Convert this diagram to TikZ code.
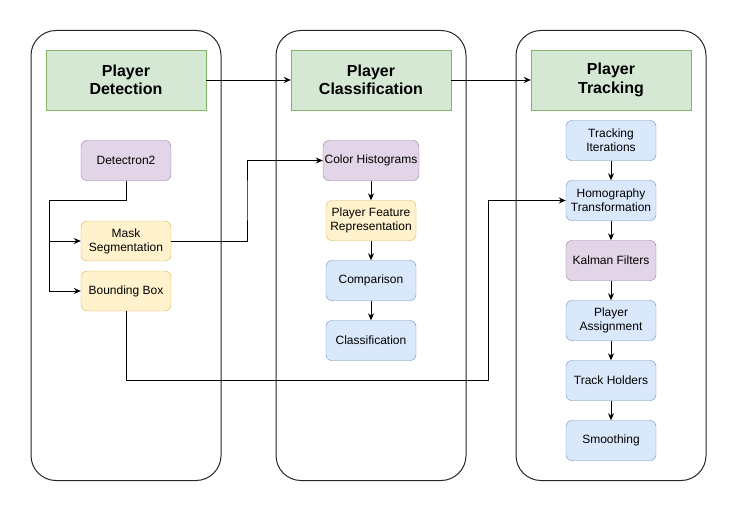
\documentclass[tikz,border=0pt]{standalone}
\usepackage{fontspec}
\setmainfont{Liberation Sans}
\usetikzlibrary{arrows.meta}

\definecolor{headfill}{HTML}{D5E8D4}
\definecolor{headline}{HTML}{82B366}
\definecolor{purplefill}{HTML}{E1D5E7}
\definecolor{purpleline}{HTML}{9673A6}
\definecolor{yellowfill}{HTML}{FFF2CC}
\definecolor{yellowline}{HTML}{D6B656}
\definecolor{bluefill}{HTML}{DAE8FC}
\definecolor{blueline}{HTML}{6C8EBF}

\begin{document}
\begin{tikzpicture}[x=1pt, y=-1pt,
    stage/.style={rectangle, rounded corners=25pt, draw=black!85, line width=1pt, minimum width=190pt, minimum height=450pt},
    head/.style={rectangle, draw=headline, fill=headfill, minimum width=160pt, minimum height=60pt, align=center, font=\fontsize{16}{18.4}\selectfont\bfseries},
    box/.style={rectangle, rounded corners=6pt, minimum width=90pt, minimum height=40pt, inner sep=0pt, align=center, font=\fontsize{12}{14}\selectfont},
    purplebox/.style={box, draw=purpleline, fill=purplefill},
    yellowbox/.style={box, draw=yellowline, fill=yellowfill},
    bluebox/.style={box, draw=blueline, fill=bluefill},
    link/.style={-{Stealth[length=7pt,width=6pt]}, line width=0.9pt}]
    \useasboundingbox (0,0) rectangle (736,511);

    \node[stage] (stage1) at (126,255.5) {};
    \node[stage] (stage2) at (371,255.5) {};
    \node[stage] (stage3) at (611,255.5) {};

    \node[head] (detection) at (126,80) {Player\\Detection};
    \node[head] (classification) at (371,80) {Player\\Classification};
    \node[head] (tracking) at (611,80) {Player\\Tracking};

    \node[purplebox] (detectron) at (126,160.5) {Detectron2};
    \node[yellowbox] (mask) at (126,241) {Mask\\Segmentation};
    \node[yellowbox] (bbox) at (126,291) {Bounding Box};

    \node[purplebox, minimum width=96pt] (histograms) at (371,160.5) {Color Histograms};
    \node[yellowbox] (feature) at (371,220.5) {Player Feature\\Representation};
    \node[bluebox] (comparison) at (371,280.5) {Comparison};
    \node[bluebox] (classify) at (371,340.5) {Classification};

    \node[bluebox] (iterations) at (611,140.5) {Tracking\\Iterations};
    \node[bluebox] (homography) at (611,200.5) {Homography\\Transformation};
    \node[purplebox] (kalman) at (611,260.5) {Kalman Filters};
    \node[bluebox] (assignment) at (611,320.5) {Player\\Assignment};
    \node[bluebox] (holders) at (611,380.5) {Track Holders};
    \node[bluebox] (smoothing) at (611,440.5) {Smoothing};

    \coordinate (split) at (49,200);
    \coordinate (up) at (247,200);
    \coordinate (under) at (488,380);

    \draw[link] (detection) -- (classification);
    \draw[link] (classification) -- (tracking);

    \draw[link] (detectron.south) |- (split) |- (mask.west);
    \draw[link] (split) |- (bbox.west);
    \draw[link] (mask.east) -| (up) |- (histograms.west);
    \draw[link] (bbox.south) |- (under) |- (homography.west);

    \draw[link] (histograms) -- (feature);
    \draw[link] (feature) -- (comparison);
    \draw[link] (comparison) -- (classify);

    \draw[link] (iterations) -- (homography);
    \draw[link] (homography) -- (kalman);
    \draw[link] (kalman) -- (assignment);
    \draw[link] (assignment) -- (holders);
    \draw[link] (holders) -- (smoothing);
\end{tikzpicture}
\end{document}
